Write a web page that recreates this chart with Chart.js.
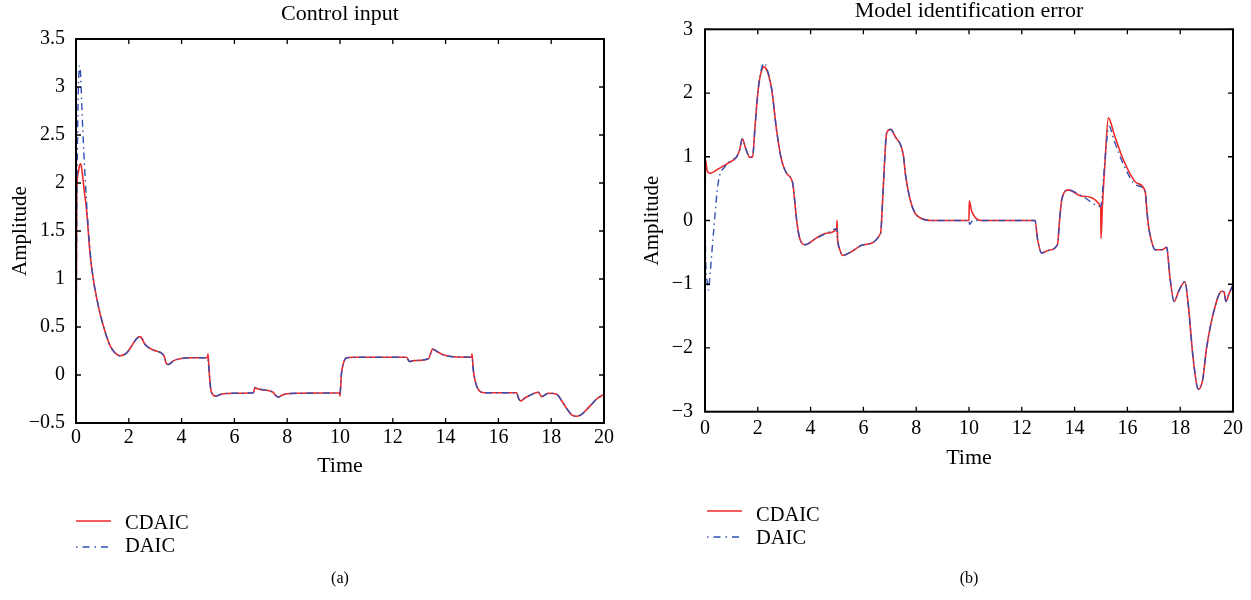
<!DOCTYPE html>
<html><head><meta charset="utf-8">
<script src="https://cdn.jsdelivr.net/npm/chart.js@4.4.0/dist/chart.umd.min.js"></script>
<style>
html,body{margin:0;padding:0;background:#fff;}
#wrap{position:relative;width:1251px;height:600px;overflow:hidden;font-family:"Liberation Serif",serif;color:#000;background:#fff;}
canvas{position:absolute;top:0;}
.leg{position:absolute;font-size:20.5px;line-height:24px;white-space:nowrap;}
.cap{position:absolute;font-size:16px;line-height:20px;width:100px;text-align:center;}
svg{position:absolute;left:0;top:0;}
</style></head><body>
<div id="wrap">
<canvas id="c1" width="625" height="490" style="left:0"></canvas>
<canvas id="c2" width="625" height="490" style="left:626px"></canvas>
<svg width="1251" height="600">
<line x1="76" y1="521" x2="111" y2="521" stroke="#f02828" stroke-width="1.5"/>
<line x1="76" y1="547" x2="111" y2="547" stroke="#3250b4" stroke-width="1.5" stroke-dasharray="1.5 5 7 5"/>
<line x1="707" y1="511" x2="742" y2="511" stroke="#f02828" stroke-width="1.5"/>
<line x1="707" y1="537" x2="742" y2="537" stroke="#3250b4" stroke-width="1.5" stroke-dasharray="1.5 5 7 5"/>
</svg>
<div class="leg" style="left:125px;top:510px">CDAIC</div>
<div class="leg" style="left:125px;top:533px">DAIC</div>
<div class="leg" style="left:756px;top:502px">CDAIC</div>
<div class="leg" style="left:756px;top:525px">DAIC</div>
<div class="cap" style="left:290px;top:568px">(a)</div>
<div class="cap" style="left:919px;top:568px">(b)</div>
</div>
<script>
// ---- Panel (a): Control input ----
const timeA_cdaic = [0,0.03,0.08,0.13,0.18,0.24,0.3,0.4,0.53,0.66,0.8,0.91,1.05,1.16,1.3,1.48,1.67,1.92,2.1,2.3,2.42,2.5,2.61,2.93,3.31,3.36,3.42,3.5,3.7,3.94,4.4,4.98,5.0,5.04,5.1,5.2,5.3,5.5,6.0,6.72,6.78,6.85,6.97,7.47,7.55,7.66,7.8,7.98,8.5,9.99,10.0,10.05,10.1,10.18,10.25,10.5,12.52,12.63,12.8,13.35,13.51,13.7,13.91,14.29,14.99,15.0,15.05,15.12,15.18,15.3,15.5,16.69,16.76,16.84,17.0,17.2,17.51,17.64,17.89,18.21,18.4,18.59,18.8,18.97,19.15,19.34,19.55,19.72,20];
const ampA_cdaic = [0,1.9,2.1,2.18,2.2,2.1,1.95,1.72,1.27,0.99,0.78,0.64,0.5,0.4,0.3,0.23,0.2,0.23,0.3,0.38,0.4,0.38,0.32,0.26,0.21,0.18,0.12,0.11,0.15,0.17,0.18,0.18,0.22,0.05,-0.14,-0.21,-0.22,-0.2,-0.19,-0.185,-0.13,-0.14,-0.15,-0.18,-0.21,-0.23,-0.21,-0.195,-0.19,-0.185,-0.22,0.0,0.09,0.16,0.18,0.185,0.185,0.14,0.15,0.17,0.27,0.24,0.21,0.19,0.185,0.22,0.05,-0.06,-0.12,-0.17,-0.185,-0.185,-0.24,-0.27,-0.24,-0.21,-0.18,-0.225,-0.19,-0.2,-0.27,-0.35,-0.42,-0.43,-0.41,-0.36,-0.3,-0.25,-0.2];
const timeA_daic = [0,0.03,0.07,0.11,0.14,0.18,0.22,0.3,0.4,0.53,0.66,0.8,0.91,1.05,1.16,1.3,1.48,1.67,1.92,2.1,2.3,2.42,2.5,2.61,2.93,3.31,3.36,3.42,3.5,3.7,3.94,4.4,4.98,5.04,5.1,5.2,5.3,5.5,6.0,6.72,6.78,6.85,6.97,7.47,7.55,7.66,7.8,7.98,8.5,10.0,10.05,10.1,10.18,10.25,10.5,12.52,12.63,12.8,13.35,13.51,13.7,13.91,14.29,15.0,15.05,15.12,15.18,15.3,15.5,16.69,16.76,16.84,17.0,17.2,17.51,17.64,17.89,18.21,18.4,18.59,18.8,18.97,19.15,19.34,19.55,19.72,20];
const ampA_daic = [0,1.6,2.7,3.15,3.22,3.1,2.8,2.3,1.8,1.3,0.99,0.78,0.64,0.5,0.4,0.3,0.23,0.2,0.23,0.3,0.38,0.4,0.38,0.32,0.26,0.21,0.18,0.12,0.11,0.15,0.17,0.18,0.18,0.05,-0.14,-0.21,-0.22,-0.2,-0.19,-0.185,-0.13,-0.14,-0.15,-0.18,-0.21,-0.23,-0.21,-0.195,-0.19,-0.185,0.0,0.09,0.16,0.18,0.185,0.185,0.14,0.15,0.17,0.27,0.24,0.21,0.19,0.185,0.05,-0.06,-0.12,-0.17,-0.185,-0.185,-0.24,-0.27,-0.24,-0.21,-0.18,-0.225,-0.19,-0.2,-0.27,-0.35,-0.42,-0.43,-0.41,-0.36,-0.3,-0.25,-0.2];

// ---- Panel (b): Model identification error ----
const timeB_cdaic = [0,0.02,0.08,0.19,0.5,0.88,1.2,1.32,1.41,1.55,1.7,1.8,1.9,2.0,2.1,2.23,2.35,2.53,2.71,2.9,3.09,3.32,3.4,3.47,3.6,3.79,4.2,4.6,4.99,5.0,5.02,5.1,5.21,5.5,6.0,6.65,6.75,6.88,7.03,7.2,7.51,7.6,7.77,7.95,8.16,8.6,10.0,10.01,10.1,10.25,10.5,12.5,12.6,12.75,13.0,13.35,13.43,13.51,13.76,14.3,14.99,15.0,15.05,15.15,15.28,15.5,15.85,16.35,16.67,16.75,16.8,16.9,17.05,17.3,17.49,17.6,17.77,17.95,18.18,18.3,18.5,18.69,18.85,19.0,19.26,19.57,19.66,19.73,19.85,20];
const errB_cdaic = [0,0.95,0.78,0.74,0.81,0.9,1.0,1.12,1.28,1.12,0.99,1.0,1.5,2.0,2.28,2.41,2.35,2.05,1.42,0.95,0.74,0.59,0.3,0.01,-0.3,-0.38,-0.28,-0.2,-0.13,0.0,-0.28,-0.45,-0.55,-0.5,-0.38,-0.2,0.5,1.37,1.43,1.32,1.03,0.7,0.33,0.12,0.04,0.0,0.0,0.31,0.15,0.04,0.0,0.0,-0.3,-0.51,-0.47,-0.38,0.0,0.32,0.48,0.38,0.22,-0.28,0.2,0.9,1.61,1.35,0.95,0.59,0.46,0.1,-0.09,-0.3,-0.46,-0.46,-0.42,-0.85,-1.27,-1.1,-0.96,-1.3,-2.2,-2.65,-2.5,-2.0,-1.45,-1.11,-1.12,-1.27,-1.15,-1.01];
const timeB_daic = [0,0.02,0.08,0.13,0.2,0.32,0.5,0.76,1.01,1.2,1.32,1.41,1.55,1.7,1.8,1.9,2.0,2.1,2.23,2.35,2.53,2.71,2.9,3.09,3.32,3.4,3.47,3.6,3.79,4.2,4.6,4.99,5.02,5.1,5.21,5.5,6.0,6.65,6.75,6.88,7.03,7.2,7.51,7.6,7.77,7.95,8.16,8.6,10.0,10.02,10.15,10.5,12.5,12.6,12.75,13.0,13.35,13.43,13.51,13.76,14.3,14.99,15.05,15.15,15.3,15.5,15.85,16.35,16.67,16.75,16.8,16.9,17.05,17.3,17.49,17.6,17.77,17.95,18.18,18.3,18.5,18.69,18.85,19.0,19.26,19.57,19.66,19.73,19.85,20];
const errB_daic = [0.9,-0.5,-0.95,-1.09,-0.8,-0.2,0.59,0.85,0.95,1.0,1.12,1.28,1.12,0.99,1.0,1.5,2.0,2.3,2.47,2.38,2.05,1.42,0.95,0.74,0.59,0.3,0.01,-0.3,-0.38,-0.28,-0.2,-0.13,-0.28,-0.45,-0.55,-0.5,-0.38,-0.2,0.5,1.37,1.43,1.32,1.03,0.7,0.33,0.12,0.04,0.0,0.0,-0.06,0.0,0.0,0.0,-0.3,-0.51,-0.47,-0.38,0.0,0.32,0.48,0.38,0.22,0.42,0.95,1.48,1.25,0.88,0.55,0.46,0.1,-0.09,-0.3,-0.46,-0.46,-0.42,-0.85,-1.27,-1.1,-0.96,-1.3,-2.2,-2.65,-2.5,-2.0,-1.45,-1.11,-1.12,-1.27,-1.15,-1.01];

const xTicksMin = 0, xTicksMax = 20, xTickStep = 2;
const seriesNames = ['CDAIC','DAIC'];

const FONT = '"Liberation Serif", "Times New Roman", serif';
Chart.defaults.color = '#000';
Chart.defaults.font.family = FONT;

function pts(xs, ys){ return xs.map((x,i)=>({x:x, y:ys[i]})); }
function minus(v){ return String(v).replace('-', '\u2212'); }

const framePlugin = {
  id:'frame',
  afterDatasetsDraw(chart){
    const {ctx, chartArea:a, scales} = chart;
    ctx.save();
    ctx.strokeStyle = '#000';
    ctx.lineWidth = 2;
    ctx.strokeRect(a.left, a.top, a.right-a.left, a.bottom-a.top);
    ctx.lineWidth = 1.3;
    const L = 5;
    ctx.beginPath();
    scales.x.ticks.forEach(t=>{
      const p = scales.x.getPixelForValue(t.value);
      ctx.moveTo(p, a.bottom); ctx.lineTo(p, a.bottom-L);
      ctx.moveTo(p, a.top); ctx.lineTo(p, a.top+L);
    });
    scales.y.ticks.forEach(t=>{
      const p = scales.y.getPixelForValue(t.value);
      ctx.moveTo(a.left, p); ctx.lineTo(a.left+L, p);
      ctx.moveTo(a.right, p); ctx.lineTo(a.right-L, p);
    });
    ctx.stroke();
    ctx.restore();
  }
};

function makeChart(id, cfg){
  return new Chart(document.getElementById(id), {
    type:'line',
    data:{datasets:[
      {label:seriesNames[0], data:pts(cfg.t1, cfg.v1), borderColor:'#f02828', borderWidth:1.6, pointRadius:0, cubicInterpolationMode:'monotone', order:1, xAxisID:'x', yAxisID:'y'},
      {label:seriesNames[1], data:pts(cfg.t2, cfg.v2), borderColor:'#3250b4', borderWidth:1.4, borderDash:[7,4,1.5,4], pointRadius:0, cubicInterpolationMode:'monotone', order:0, xAxisID:'x', yAxisID:'y'}
    ]},
    options:{
      responsive:false, animation:false, devicePixelRatio:1,
      layout:{padding:{left:0, right:cfg.padRight, top:0, bottom:cfg.padBottom}},
      plugins:{legend:{display:false}, tooltip:{enabled:false}, title:{display:false}},
      scales:{
        x:{type:'linear', position:'bottom', min:xTicksMin, max:xTicksMax,
           grid:{display:false, drawTicks:false}, border:{display:false},
           ticks:{stepSize:xTickStep, padding:cfg.xPad, font:{size:20}, maxRotation:0, autoSkip:false},
           title:{display:true, text:'Time', font:{size:22}, padding:{top:0,bottom:cfg.xTitlePad}},
           afterFit(s){ s.height = 60; }},
        xTop:{type:'linear', position:'top', min:xTicksMin, max:xTicksMax,
           grid:{display:false, drawTicks:false}, border:{display:false},
           ticks:{display:false},
           title:{display:true, text:cfg.title, font:{size:22}, padding:{top:cfg.titlePad,bottom:0}},
           afterFit(s){ s.height = cfg.topH; }},
        y:{type:'linear', position:'left', min:cfg.ymin, max:cfg.ymax,
           grid:{display:false, drawTicks:false}, border:{display:false},
           ticks:{stepSize:cfg.ystep, padding:cfg.yPad, font:{size:20}, callback:(v)=>minus(v)},
           title:{display:true, text:'Amplitude', font:{size:21}, padding:{top:cfg.yTitlePad,bottom:0}},
           afterFit(s){ s.width = cfg.leftW; }}
      }
    },
    plugins:[framePlugin]
  });
}

makeChart('c1', {t1:timeA_cdaic, v1:ampA_cdaic, t2:timeA_daic, v2:ampA_daic,
  title:'Control input', ymin:-0.5, ymax:3.5, ystep:0.5,
  padRight:21, padBottom:7, topH:39, titlePad:1, leftW:76, yPad:11, xPad:3, xTitlePad:4, yTitlePad:7.5});
makeChart('c2', {t1:timeB_cdaic, v1:errB_cdaic, t2:timeB_daic, v2:errB_daic,
  title:'Model identification error', ymin:-3, ymax:3, ystep:1,
  padRight:18, padBottom:18.3, topH:29.3, titlePad:-2, leftW:79, yPad:12, xPad:5, xTitlePad:0.5, yTitlePad:13.5});
</script>
</body></html>
